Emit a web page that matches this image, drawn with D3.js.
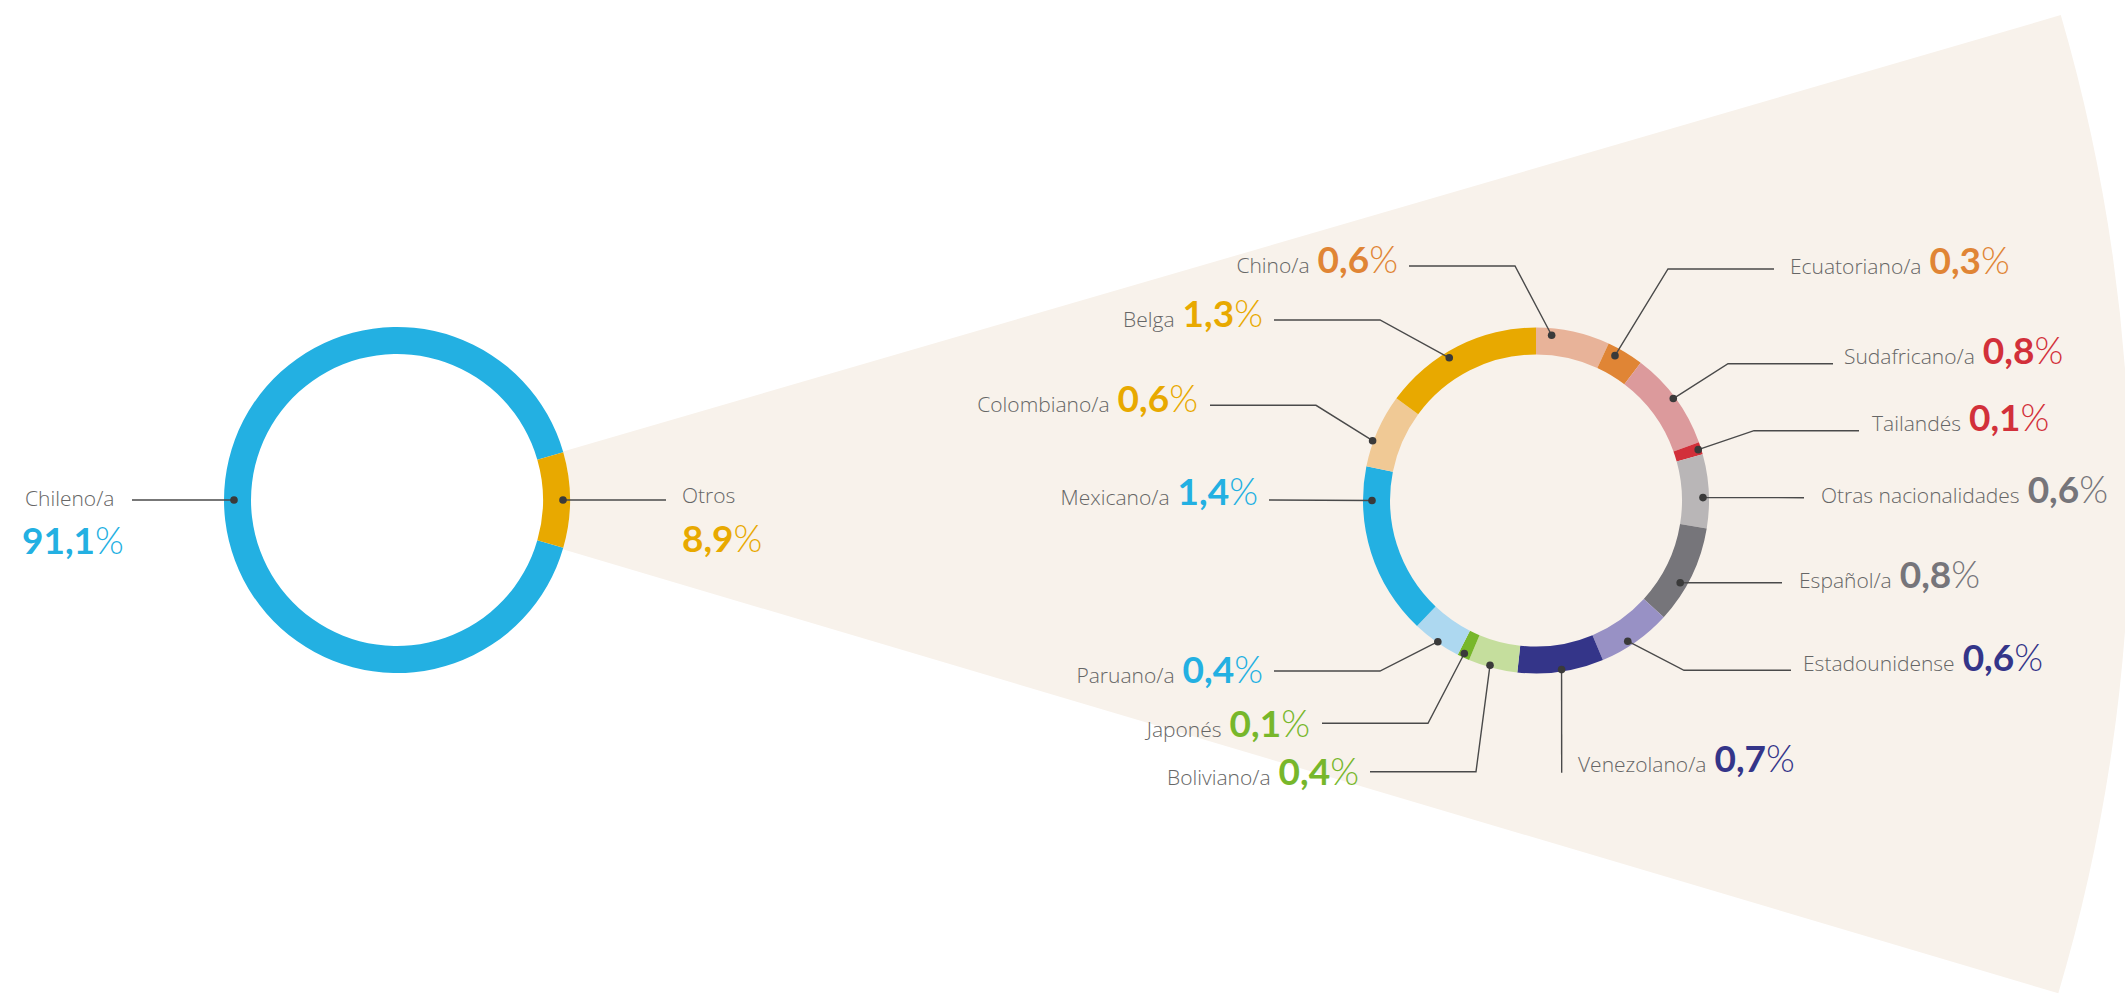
<!DOCTYPE html>
<html>
<head>
<meta charset="utf-8">
<script src="https://cdn.jsdelivr.net/npm/d3@7"></script>
<style>
  html, body { margin: 0; padding: 0; background: #ffffff; }
  svg { display: block; }
  .name { font-family: "Open Sans", Lato, sans-serif; font-weight: 300; fill: #666666; }
  .num  { font-family: Lato, "Open Sans", sans-serif; font-weight: 700; }
  .pct  { font-weight: 300; }
  .leader { fill: none; stroke: #4a4a4a; stroke-width: 1.4; }
  .dot { fill: #3a3a3a; }
</style>
</head>
<body>
<svg id="chart" width="2125" height="997"></svg>
<script>
// ---- Data -------------------------------------------------------------
// Main split of the population by nationality (%)
const mainCategories = ["Chileno/a", "Otros"];
const mainValues = [91.1, 8.9];
const mainColors = ["#23B0E2", "#E8A900"];

// Breakdown of "Otros", clockwise from 12 o'clock (%)
const otherCategories = [
  "Chino/a", "Ecuatoriano/a", "Sudafricano/a", "Tailandés", "Otras nacionalidades",
  "Español/a", "Estadounidense", "Venezolano/a", "Boliviano/a", "Japonés",
  "Paruano/a", "Mexicano/a", "Colombiano/a", "Belga"
];
const otherValues = [0.6, 0.3, 0.8, 0.1, 0.6, 0.8, 0.6, 0.7, 0.4, 0.1, 0.4, 1.4, 0.6, 1.3];
const otherColors = [
  "#E8B399", "#E08535", "#DC9A9C", "#D2303A", "#B9B6B7",
  "#76757A", "#9891C5", "#343589", "#C5DE9D", "#77B72B",
  "#ADD8F0", "#23B0E2", "#F0C995", "#E8A900"
];
const otherValueColors = [
  "#E08535", "#E08535", "#D2303A", "#D2303A", "#76757A",
  "#76757A", "#343589", "#343589", "#77B72B", "#77B72B",
  "#23B0E2", "#23B0E2", "#E8A900", "#E8A900"
];

// ---- Layout -----------------------------------------------------------
const W = 2125, H = 997;
const leftCenter = [397, 500];
const rightCenter = [1536, 500.5];
const outerR = 173, innerR = 146;
const fanR = 1733;
const fanPad = [0.004, 0.009];   // slight flare of the zoom fan beyond the slice edges (rad)
const fanColor = "#F8F2EB";
const nameSize = 21, valueSize = 37;

// Annotation placement for the breakdown ring: side of the text, text anchor point,
// leader-line vertices (from the text side towards the ring) and where the marker sits.
const otherLabelLayout = [
  { side: "L", x: 1398, y: 272.5, line: [[1409, 266], [1515, 266]],       dotA: 5.4,   dotR: 166 },
  { side: "R", x: 1790, y: 274,   line: [[1774, 269], [1668, 269]],       dotA: 28.6,  dotR: 165 },
  { side: "R", x: 1844, y: 364,   line: [[1833, 363.7], [1728, 363.7]],   dotA: 53.4,  dotR: 171 },
  { side: "R", x: 1872, y: 431,   line: [[1859, 430.7], [1754, 430.7]],   dotA: 72.6,  dotR: 170 },
  { side: "R", x: 1821, y: 503.3, line: [[1804, 497.7]],                  dotA: 89,    dotR: 167 },
  { side: "R", x: 1799, y: 588.3, line: [[1782, 582.7]],                  dotA: 119.7, dotR: 166 },
  { side: "R", x: 1803, y: 670.7, line: [[1791, 670.3], [1684, 670.3]],   dotA: 146.9, dotR: 168 },
  { side: "R", x: 1578, y: 772.3, line: [[1561.7, 772.7]],                dotA: 171.4, dotR: 171 },
  { side: "L", x: 1359, y: 785,   line: [[1370, 771.7], [1476, 771.7]],   dotA: 195.6, dotR: 171 },
  { side: "L", x: 1310, y: 736.7, line: [[1322, 723.3], [1428, 723.3]],   dotA: 205.1, dotR: 169 },
  { side: "L", x: 1263, y: 683.3, line: [[1274, 671], [1380, 671]],       dotA: 214.8, dotR: 172 },
  { side: "L", x: 1258, y: 505,   line: [[1269, 500]],                    dotA: 270,   dotR: 164 },
  { side: "L", x: 1198, y: 411.7, line: [[1210, 405.3], [1316, 405.3]],   dotA: 290.1, dotR: 174 },
  { side: "L", x: 1263, y: 326.7, line: [[1274, 320], [1380, 320]],       dotA: 328.7, dotR: 167 }
];

const fmtValue = v => d3.format(".1f")(v).replace(".", ",");

const svg = d3.select("#chart");

// ---- Main ring ---------------------------------------------------------
const mainTotal = d3.sum(mainValues);
const otrosShare = mainValues[1] / mainTotal;
// Rotate so the "Otros" slice is centred on the 3 o'clock position
const mainStart = Math.PI / 2 + otrosShare * Math.PI;
const mainPie = d3.pie().sort(null).value(d => d)
  .startAngle(mainStart).endAngle(mainStart + 2 * Math.PI);
const mainArcs = mainPie(mainValues);

// Zoom fan: extends the "Otros" slice outwards behind the breakdown ring
const otrosArc = mainArcs[1];
const fan = d3.arc().innerRadius(outerR).outerRadius(fanR);
svg.append("path")
  .attr("transform", `translate(${leftCenter})`)
  .attr("d", fan({ startAngle: otrosArc.startAngle - fanPad[0], endAngle: otrosArc.endAngle + fanPad[1] }))
  .attr("fill", fanColor);

const ring = d3.arc().innerRadius(innerR).outerRadius(outerR);
const gMain = svg.append("g").attr("transform", `translate(${leftCenter})`);
gMain.selectAll("path").data(mainArcs).join("path")
  .attr("d", ring)
  .attr("fill", (d, i) => mainColors[i]);

// Main ring annotations
const polar = (c, angleRad, r) => [c[0] + r * Math.sin(angleRad), c[1] - r * Math.cos(angleRad)];
const mainLabelLayout = [
  { nameX: 25,  nameY: 505.7, valX: 22,  valY: 554.3, lineX: 132, dotR: 163 },
  { nameX: 682, nameY: 503.3, valX: 682, valY: 551.7, lineX: 666, dotR: 166 }
];
mainArcs.forEach((a, i) => {
  const L = mainLabelLayout[i];
  const mid = (a.startAngle + a.endAngle) / 2;
  const p = polar(leftCenter, mid, L.dotR);
  svg.append("path").attr("class", "leader")
    .attr("d", d3.line()([[L.lineX, p[1]], p]));
  svg.append("circle").attr("class", "dot").attr("cx", p[0]).attr("cy", p[1]).attr("r", 3.8);
  svg.append("text").attr("class", "name")
    .attr("x", L.nameX).attr("y", L.nameY).attr("font-size", nameSize)
    .text(mainCategories[i]);
  const t = svg.append("text").attr("class", "num")
    .attr("x", L.valX).attr("y", L.valY).attr("font-size", valueSize)
    .attr("fill", mainColors[i]);
  t.append("tspan").text(fmtValue(mainValues[i]));
  t.append("tspan").attr("class", "pct").text("%");
});

// ---- Breakdown ring ----------------------------------------------------
const otherPie = d3.pie().sort(null).value(d => d)
  .startAngle(0).endAngle(2 * Math.PI);
const otherArcs = otherPie(otherValues);
const gOther = svg.append("g").attr("transform", `translate(${rightCenter})`);
gOther.selectAll("path").data(otherArcs).join("path")
  .attr("d", ring)
  .attr("fill", (d, i) => otherColors[i]);

const toRad = d3.scaleLinear().domain([0, 360]).range([0, 2 * Math.PI]);

otherArcs.forEach((a, i) => {
  const L = otherLabelLayout[i];
  const p = polar(rightCenter, toRad(L.dotA), L.dotR);
  svg.append("path").attr("class", "leader")
    .attr("d", d3.line()([...L.line, p]));
  svg.append("circle").attr("class", "dot").attr("cx", p[0]).attr("cy", p[1]).attr("r", 3.8);

  const t = svg.append("text")
    .attr("x", L.x).attr("y", L.y)
    .attr("text-anchor", L.side === "L" ? "end" : "start");
  t.append("tspan").attr("class", "name").attr("font-size", nameSize).text(otherCategories[i]);
  t.append("tspan").attr("class", "num").attr("font-size", valueSize).attr("dx", 8)
    .attr("fill", otherValueColors[i]).text(fmtValue(a.data));
  t.append("tspan").attr("class", "num pct").attr("font-size", valueSize)
    .attr("fill", otherValueColors[i]).text("%");
});
</script>
</body>
</html>
